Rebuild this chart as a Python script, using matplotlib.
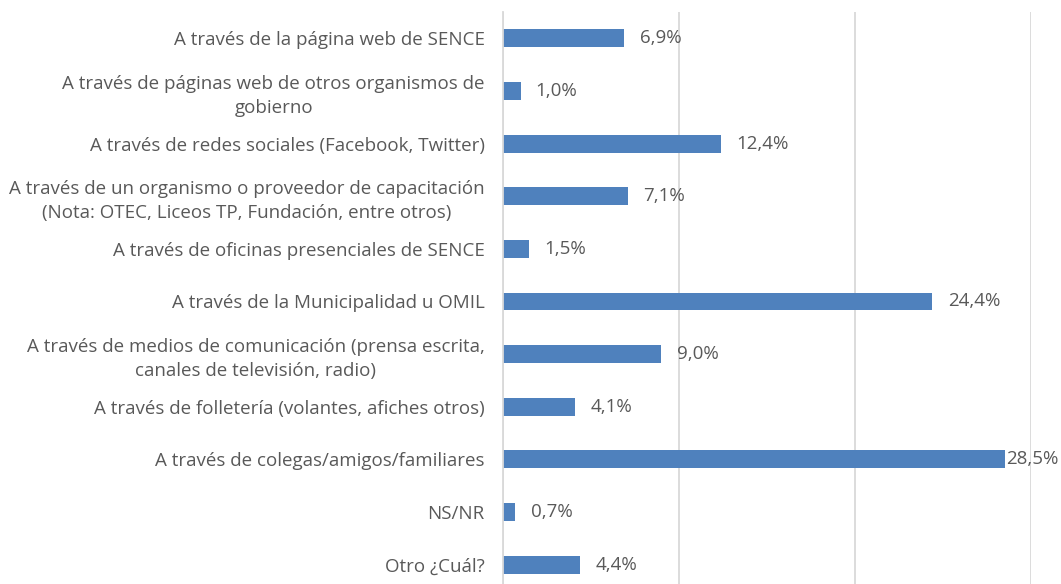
import matplotlib.pyplot as plt

categorias = [
    "A través de la página web de SENCE",
    "A través de páginas web de otros organismos de\ngobierno",
    "A través de redes sociales (Facebook, Twitter)",
    "A través de un organismo o proveedor de capacitación\n(Nota: OTEC, Liceos TP, Fundación, entre otros)",
    "A través de oficinas presenciales de SENCE",
    "A través de la Municipalidad u OMIL",
    "A través de medios de comunicación (prensa escrita,\ncanales de televisión, radio)",
    "A través de folletería (volantes, afiches otros)",
    "A través de colegas/amigos/familiares",
    "NS/NR",
    "Otro ¿Cuál?",
]
valores = [6.9, 1.0, 12.4, 7.1, 1.5, 24.4, 9.0, 4.1, 28.5, 0.7, 4.4]
etiquetas = ["6,9%", "1,0%", "12,4%", "7,1%", "1,5%", "24,4%", "9,0%", "4,1%", "28,5%", "0,7%", "4,4%"]

plt.rcParams['font.family'] = ['Open Sans', 'DejaVu Sans']
color_texto = '#595959'

fig = plt.figure(figsize=(10.61, 5.84), dpi=100)
ax = fig.add_axes([0.474, -0.012, 0.4977, 0.9915])

y = list(range(len(categorias)))
ax.barh(y, valores, height=0.34, color='#4F81BD', zorder=3)

for yi, v, t in zip(y, valores, etiquetas):
    off = 1 if v > 28 else 11
    ax.annotate(t, xy=(v, yi), xytext=(off, 0), textcoords='offset points',
                va='center', ha='left', fontsize=13.5, color=color_texto, zorder=4)

ax.set_yticks(y)
ax.set_yticklabels(categorias, multialignment='center', fontsize=13.5,
                   color=color_texto, linespacing=1.4)
ax.tick_params(axis='y', length=0, pad=13)
ax.set_ylim(len(categorias) - 0.5, -0.5)

ax.set_xlim(0, 30)
ax.set_xticks([0, 10, 20, 30])
ax.tick_params(axis='x', length=0, labelbottom=False)
ax.grid(axis='x', color='#D9D9D9', linewidth=1.3, zorder=0)

for s in ['top', 'right', 'bottom']:
    ax.spines[s].set_visible(False)
ax.spines['left'].set_color('#D9D9D9')
ax.spines['left'].set_linewidth(1.3)
ax.spines['left'].set_zorder(5)

fig.savefig('out.png', dpi=100)
